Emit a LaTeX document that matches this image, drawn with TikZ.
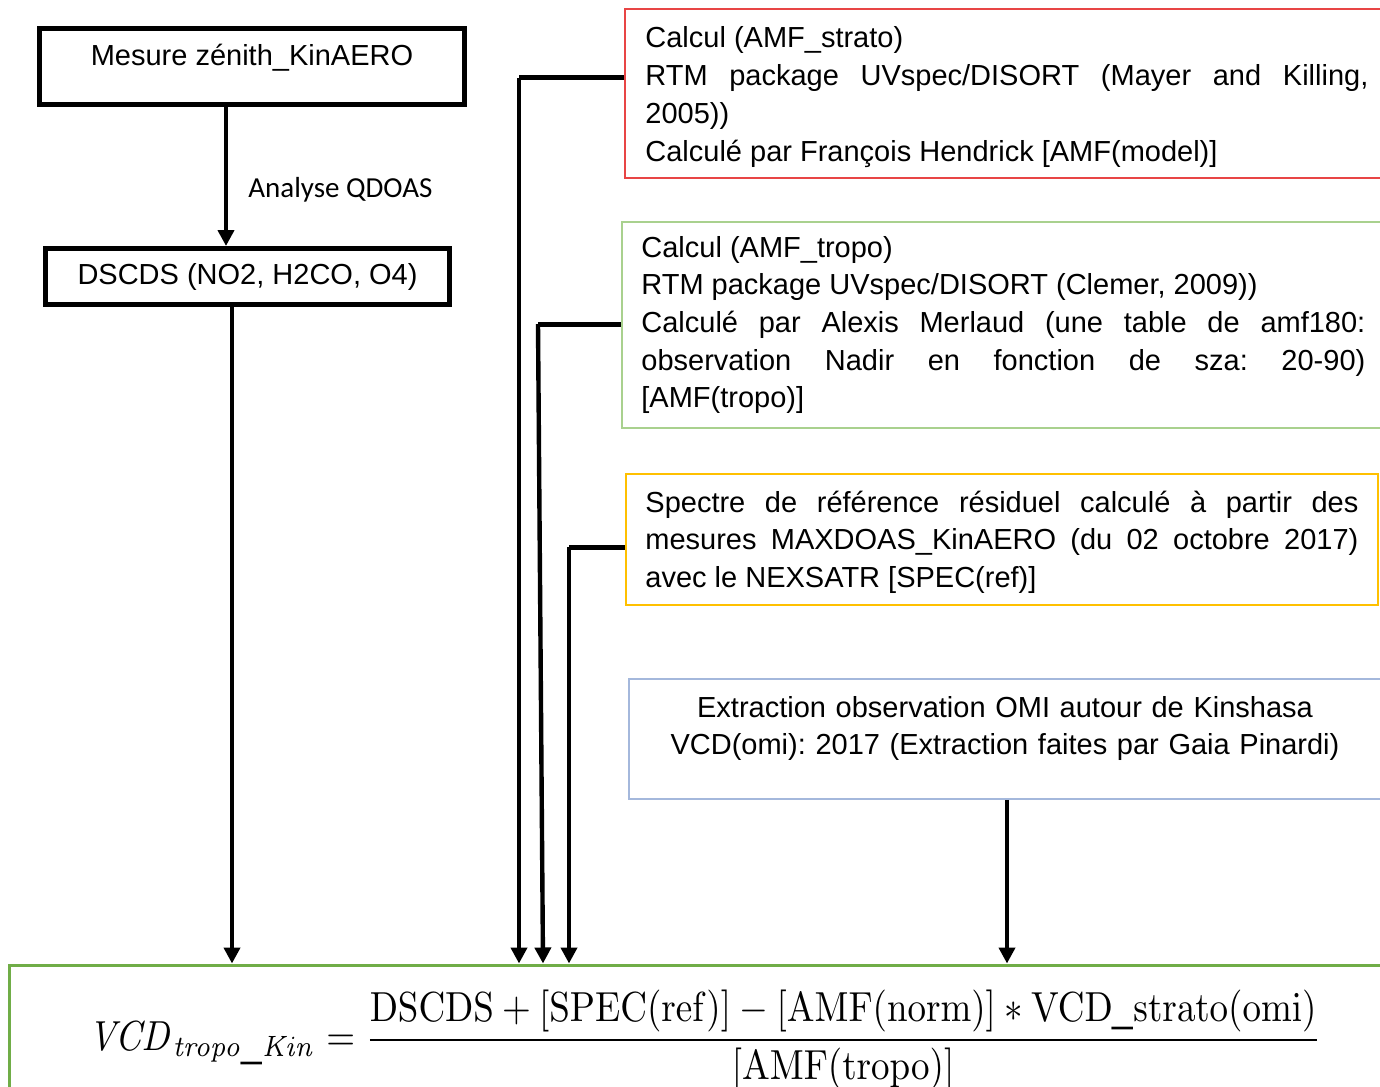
\documentclass[tikz,border=0pt]{standalone}
\usepackage{graphicx}
\usepackage[no-math]{fontspec}
\setmainfont{Liberation Sans}
\newfontfamily\calib{Carlito}
\usetikzlibrary{arrows.meta,calc}
\definecolor{cred}{HTML}{E84545}
\definecolor{cgreen}{HTML}{A9D18E}
\definecolor{cyellow}{HTML}{FFC000}
\definecolor{cblue}{HTML}{A4B8DC}
\definecolor{cres}{HTML}{70AD47}
\frenchspacing
\begin{document}
\begin{tikzpicture}[x=0.5pt,y=-0.5pt,
  txt/.style={font=\fontsize{14.5}{18.85}\selectfont, inner sep=0pt},
  blackbox/.style={draw=black, line width=2.5pt, inner sep=0pt},
  thinbox/.style={draw=#1, line width=0.8pt, inner sep=0pt},
  conn/.style={line width=2.4pt, -{Triangle[width=8pt,length=8pt]}},
  elbow/.style={line width=2.5pt},
  tipend/.style={line width=2.2pt, -{Triangle[width=8pt,length=8pt]}}
]
\useasboundingbox (0,0) rectangle (1380,1086);

% left boxes
\node[blackbox, minimum width=212.5pt, minimum height=38pt] (b1) at (252,66.5) {};
\node[txt, anchor=base] (b1t) at (252,66) {Mesure zénith\_KinAERO};
\node[blackbox, txt, minimum width=202pt, minimum height=28pt] (b2) at (247.5,276.5) {DSCDS (NO2, H2CO, O4)};

% right boxes
\node[thinbox=cred, minimum width=379.5pt, minimum height=84.5pt] (red) at (1004.5,93.5) {};
\node[txt, anchor=base west, text width=361.5pt, align=justify] (redt) at (645,48)
 {Calcul (AMF\_strato)\\RTM package UVspec/DISORT (Mayer and Killing,\linebreak 2005))\\Calculé par François Hendrick {[}AMF(model)]};

\node[thinbox=cgreen, minimum width=381pt, minimum height=103pt] (grn) at (1003,325) {};
\node[txt, anchor=base west, text width=362pt, align=justify] (grnt) at (641,257)
 {Calcul (AMF\_tropo)\\RTM package UVspec/DISORT (Clemer, 2009))\\Calculé par Alexis Merlaud (une table de amf180:\linebreak observation Nadir en fonction de sza: 20-90)\linebreak {[}AMF(tropo)]};

\node[thinbox=cyellow, minimum width=376pt, minimum height=65.5pt] (yel) at (1002,539.5) {};
\node[txt, anchor=base west, text width=356.5pt, align=justify] (yelt) at (645,512)
 {Spectre de référence résiduel calculé à partir des\linebreak mesures MAXDOAS\_KinAERO (du 02 octobre 2017)\linebreak avec le NEXSATR {[}SPEC(ref)]};

\node[thinbox=cblue, minimum width=377.5pt, minimum height=60pt] (blu) at (1006.5,739) {};
\node[txt, anchor=base, text width=377pt, align=center] (blut) at (1005,717)
 {Extraction observation OMI autour de Kinshasa\\VCD(omi): 2017 (Extraction faites par Gaia Pinardi)};

% result box
\node[draw=cres, line width=1.5pt, inner sep=0pt, minimum width=690.5pt, minimum height=65pt] (res) at (699.5,1030) {};
\node[inner sep=0pt, anchor=west] (eq) at (88,1040)
 {\scalebox{1.85}[2.1]{$\displaystyle \mathit{VCD}_{\mathit{tropo\_Kin}} = \frac{\mathrm{DSCDS} + [\mathrm{SPEC(ref)}] - [\mathrm{AMF(norm)}] \ast \mathrm{VCD\_strato(omi)}}{[\mathrm{AMF(tropo)}]}$}};

% coordinates
\coordinate (a1) at (226,0);
\coordinate (a2) at (232,0);
\coordinate (r1) at (519,78);
\coordinate (g1) at (538,324);
\coordinate (g2) at (543,0);
\coordinate (y1) at (569,547);
\coordinate (o1) at (1007,0);

% connectors
\draw[conn] (b1.south -| a1) -- (b2.north -| a1);
\node[txt, font=\calib\fontsize{14.5}{17}\selectfont, anchor=base west] (lab) at (248,197) {Analyse QDOAS};
\draw[tipend] (b2.south -| a2) -- (res.north -| a2);
\draw[elbow] (red.west |- r1) -- (r1);
\draw[tipend] (r1) -- (res.north -| r1);
\draw[elbow] (grn.west |- g1) -- (g1);
\draw[tipend] (g1) -- (res.north -| g2);
\draw[elbow] (yel.west |- y1) -- (y1);
\draw[tipend] (y1) -- (res.north -| y1);
\draw[tipend] (blu.south -| o1) -- (res.north -| o1);
\end{tikzpicture}
\end{document}
